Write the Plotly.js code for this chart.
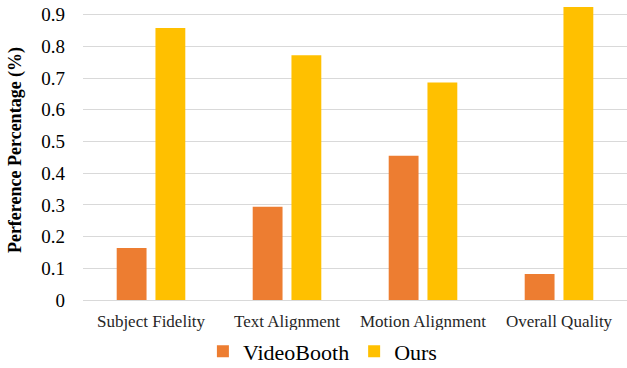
<!DOCTYPE html>
<html><head><meta charset="utf-8">
<script src="https://cdn.plot.ly/plotly-3.0.1.min.js"></script>
<style>html,body{margin:0;padding:0;background:#fff}#c{width:627px;height:368px}</style>
</head><body><div id="c"></div>
<script>
const categories = ["Subject Fidelity", "Text Alignment", "Motion Alignment", "Overall Quality"];
const videoBooth = [0.164, 0.294, 0.455, 0.082];
const ours = [0.858, 0.772, 0.686, 0.924];
const yTickVals = [0, 0.1, 0.2, 0.3, 0.4, 0.5, 0.6, 0.7, 0.8, 0.9];
const yTickText = ["0", "0.1", "0.2", "0.3", "0.4", "0.5", "0.6", "0.7", "0.8", "0.9"];

const font = "Liberation Serif";
const data = [
  {type: "bar", name: "VideoBooth", x: categories, y: videoBooth, marker: {color: "#ED7D31"}},
  {type: "bar", name: "Ours", x: categories, y: ours, marker: {color: "#FFC000"}}
];
const layout = {
  width: 627, height: 368,
  margin: {l: 83, r: 0, t: 0, b: 68},
  paper_bgcolor: "#fff", plot_bgcolor: "#fff",
  barmode: "group", bargap: 0.43, bargroupgap: 0.23,
  font: {family: font, color: "#000"},
  xaxis: {
    tickfont: {family: font, size: 17, color: "#262626"},
    showline: false, ticks: "", showgrid: false, ticklabelstandoff: 9
  },
  yaxis: {
    range: [0, 0.946], tickvals: yTickVals, ticktext: yTickText,
    tickfont: {family: font, size: 19, color: "#000"},
    gridcolor: "#D9D9D9", gridwidth: 1, zeroline: true, zerolinecolor: "#D9D9D9", zerolinewidth: 1,
    showline: false, ticks: "", ticklabelstandoff: 17,
    title: {text: "<b>Perference Percentage (%)</b>", font: {family: font, size: 18, color: "#000"}, standoff: 14}
  },
  showlegend: true,
  legend: {
    orientation: "h", xref: "container", yref: "container", x: 0.515, xanchor: "center",
    y: 0.045, yanchor: "middle", font: {family: font, size: 22, color: "#000"}, itemwidth: 30, traceorder: "normal"
  }
};
Plotly.newPlot("c", data, layout, {displayModeBar: false, staticPlot: true});
</script></body></html>
